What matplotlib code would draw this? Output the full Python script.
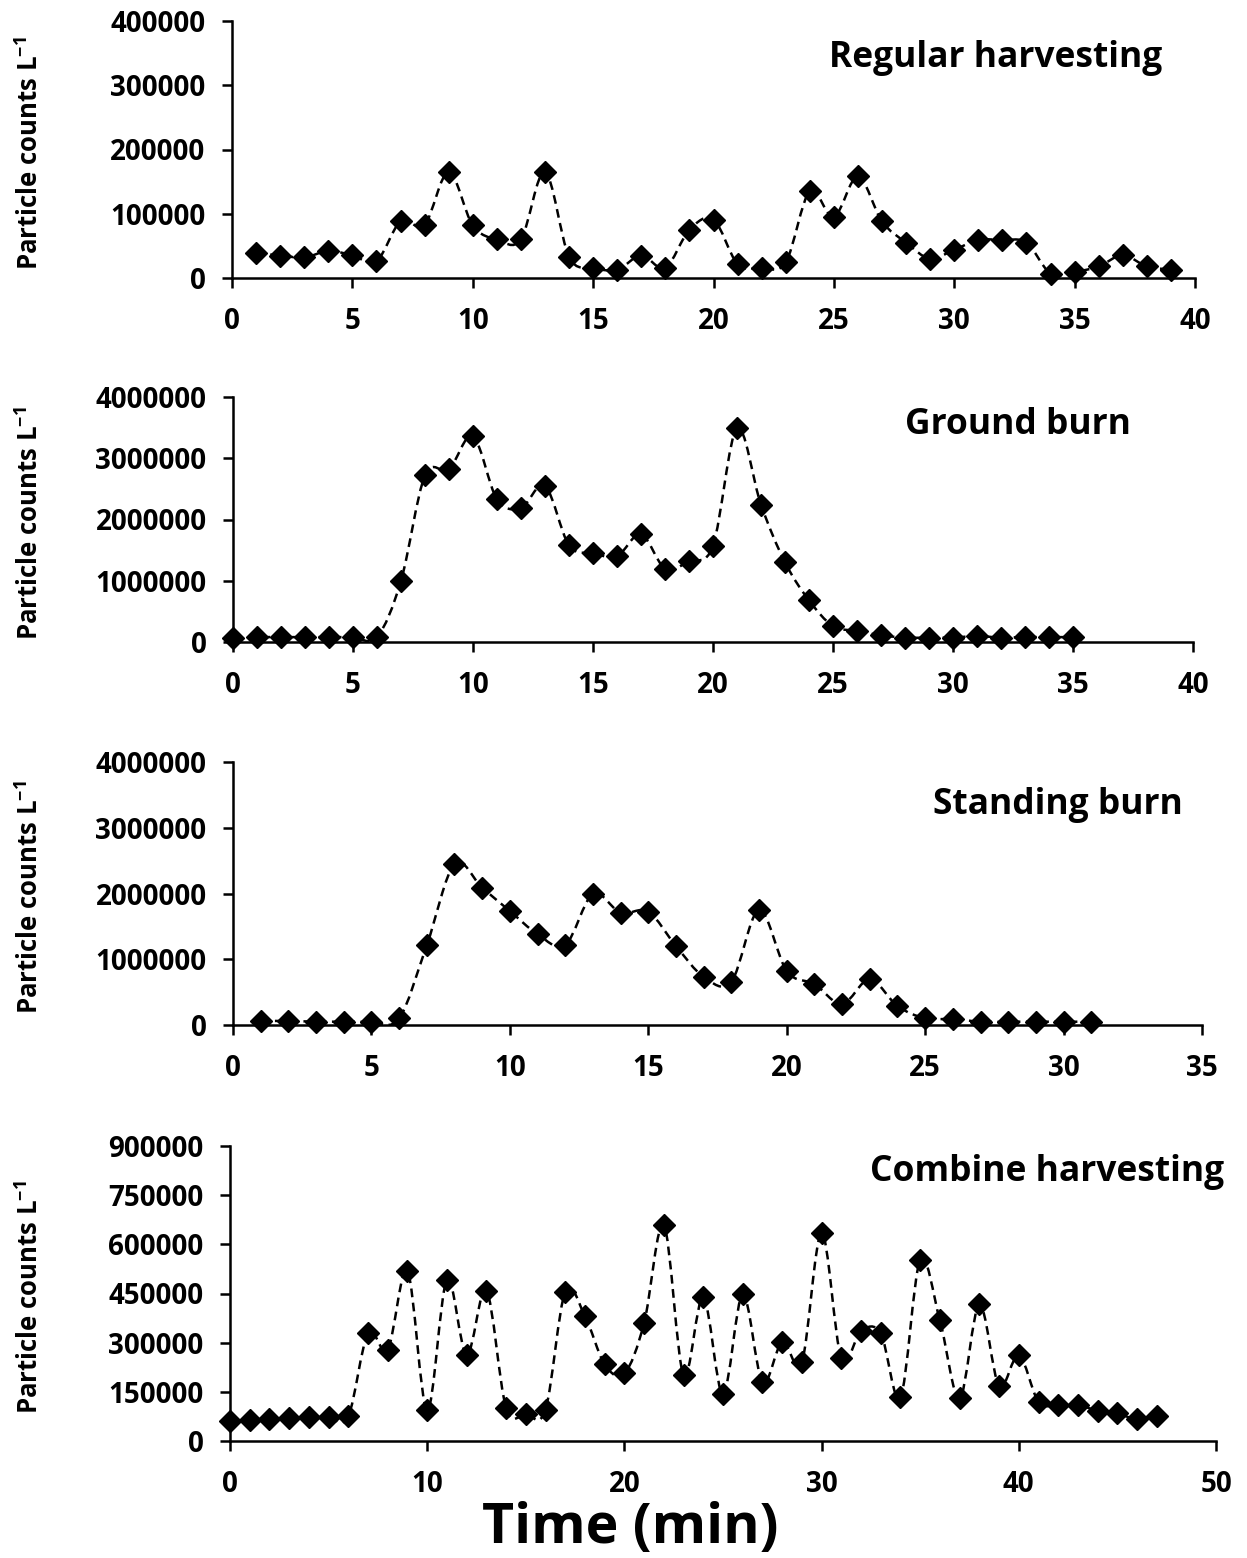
import numpy as np
import matplotlib
matplotlib.use("Agg")
import matplotlib.pyplot as plt
from matplotlib.path import Path
from matplotlib.patches import PathPatch

plt.rcParams['font.family'] = ['Open Sans', 'DejaVu Sans']
plt.rcParams['font.weight'] = 'bold'
plt.rcParams['mathtext.fontset'] = 'custom'
plt.rcParams['mathtext.rm'] = 'Open Sans:bold'
plt.rcParams['mathtext.it'] = 'Open Sans:bold'
plt.rcParams['mathtext.bf'] = 'Open Sans:bold'

# Regular harvesting
reg_t = list(range(1, 40))
reg_v = [39000, 35000, 32000, 42000, 35500, 26000, 88000, 83000, 165000, 82000,
         60000, 60000, 165000, 33000, 16000, 13000, 35000, 16000, 75000, 91000,
         22000, 16000, 24500, 135000, 95000, 158000, 88000, 55000, 30000, 44000,
         59000, 59000, 55000, 7000, 9500, 18000, 35500, 18000, 13000]

# Ground burn
gnd_t = list(range(0, 36))
gnd_v = [72000, 80000, 80000, 80000, 80000, 80000, 80000, 1000000, 2720000, 2820000,
         3360000, 2330000, 2190000, 2550000, 1580000, 1450000, 1400000, 1760000, 1200000, 1320000,
         1575000, 3490000, 2240000, 1300000, 680000, 260000, 180000, 110000, 72000, 72000,
         72000, 98000, 72000, 80000, 80000, 80000]

# Standing burn
std_t = list(range(1, 32))
std_v = [61000, 61000, 51000, 51000, 51000, 100000, 1215000, 2447000, 2087000, 1733000,
         1383000, 1216000, 1991000, 1707000, 1722000, 1200000, 734000, 658000, 1748000, 821000,
         623000, 319000, 694000, 289000, 102000, 91000, 50000, 50000, 50000, 50000, 50000]

# Combine harvesting
cmb_t = list(range(0, 48))
cmb_v = [62000, 64000, 66000, 69000, 72000, 72000, 76000, 329000, 279000, 518000,
         94000, 492000, 262000, 459000, 101000, 82000, 96000, 456000, 381000, 234000,
         206000, 360000, 659000, 201000, 439000, 143000, 447000, 180000, 302000, 241000,
         634000, 252000, 336000, 328000, 133000, 553000, 368000, 130000, 417000, 168000,
         262000, 120000, 110000, 110000, 92000, 84000, 66000, 76000]

panels = [
    ("Regular harvesting", reg_t, reg_v, 40, 5, 400000, 100000),
    ("Ground burn", gnd_t, gnd_v, 40, 5, 4000000, 1000000),
    ("Standing burn", std_t, std_v, 35, 5, 4000000, 1000000),
    ("Combine harvesting", cmb_t, cmb_v, 50, 10, 900000, 150000),
]

# axes boxes in pixels: left, right, top, bottom
boxes = [(232, 1195, 21, 278), (233, 1193, 397, 642), (233, 1202, 762, 1025), (230, 1216, 1146, 1441)]
title_pos = [(996, 58), (1018, 425), (1058, 805), (1047, 1172)]

W, H = 1247, 1558
fig = plt.figure(figsize=(W / 100, H / 100), dpi=100)


def smooth_path(x, y):
    # Excel-style smoothed line as cubic bezier segments
    x = np.asarray(x, float)
    y = np.asarray(y, float)
    pts = np.column_stack([x, y])
    n = len(pts)
    verts = [pts[0]]
    codes = [Path.MOVETO]
    for i in range(n - 1):
        p0 = pts[max(i - 1, 0)]
        p1 = pts[i]
        p2 = pts[i + 1]
        p3 = pts[min(i + 2, n - 1)]
        c1 = p1 + (p2 - p0) / 6.0
        c2 = p2 - (p3 - p1) / 6.0
        verts += [c1, c2, p2]
        codes += [Path.CURVE4] * 3
    return Path(verts, codes)


for (title, t, v, xmax, xstep, ymax, ystep), (l, r, tp, b), (tx, ty) in zip(panels, boxes, title_pos):
    ax = fig.add_axes([l / W, 1 - b / H, (r - l) / W, (b - tp) / H])
    patch = PathPatch(smooth_path(t, v), fill=False, edgecolor='black',
                      linewidth=1.8, linestyle=(0, (3.5, 2.2)))
    ax.add_patch(patch)
    ax.plot(t, v, linestyle='none', marker='D', markersize=11, color='black', clip_on=False, zorder=3)
    ax.set_xlim(0, xmax)
    ax.set_ylim(0, ymax)
    ax.set_xticks(np.arange(0, xmax + 1, xstep))
    ax.set_yticks(np.arange(0, ymax + 1, ystep))
    ax.set_yticklabels([str(int(val)) for val in np.arange(0, ymax + 1, ystep)])
    for s in ['top', 'right']:
        ax.spines[s].set_visible(False)
    for s in ['left', 'bottom']:
        ax.spines[s].set_linewidth(1.8)
    ax.tick_params(axis='both', direction='out', length=7, width=1.8, labelsize=20)
    ax.tick_params(axis='x', pad=14)
    ax.tick_params(axis='y', pad=12)
    for lab in ax.get_xticklabels() + ax.get_yticklabels():
        lab.set_fontweight('bold')
    fig.text(tx / W, 1 - ty / H, title, ha='center', va='center', fontsize=25.5, fontweight='bold')
    fig.text(30 / W, 1 - ((tp + b) / 2 + 4) / H, r'Particle counts L$^{-1}$', rotation=90,
             ha='center', va='center', fontsize=18.5, fontweight='bold')

fig.text(630 / W, 1 - 1528 / H, 'Time (min)', ha='center', va='center', fontsize=40, fontweight='bold')

fig.savefig('out.png', dpi=100)
